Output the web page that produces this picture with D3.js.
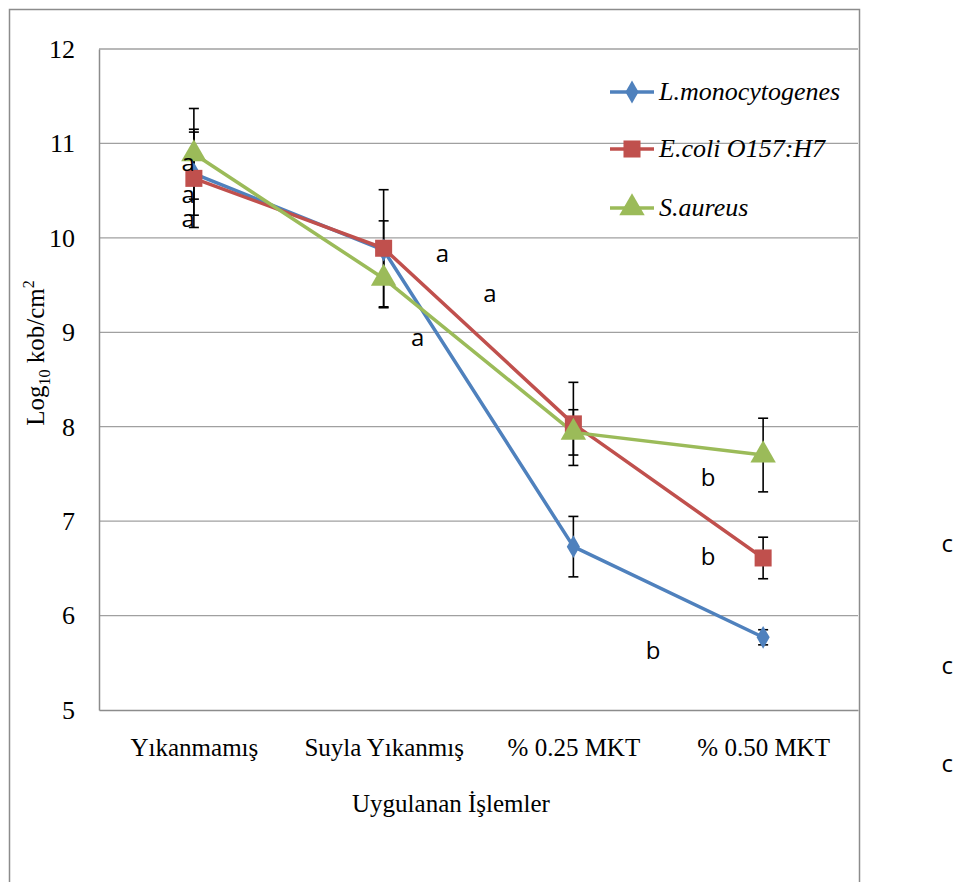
<!DOCTYPE html>
<html>
<head>
<meta charset="utf-8">
<script src="https://cdn.jsdelivr.net/npm/d3@7"></script>
<style>
body { margin:0; background:#fff; }
svg { display:block; }
</style>
</head>
<body>
<div id="chart"></div>
<script>
// data
var categories = ["Yıkanmamış", "Suyla Yıkanmış", "% 0.25 MKT", "% 0.50 MKT"];
var seriesNames = ["L.monocytogenes", "E.coli O157:H7", "S.aureus"];
var lmono = [10.68, 9.87, 6.73, 5.77];
var lmonoErr = [0.44, 0.31, 0.32, 0.08];
var ecoli = [10.63, 9.89, 8.03, 6.61];
var ecoliErr = [0.52, 0.62, 0.44, 0.22];
var saureus = [10.89, 9.57, 7.94, 7.70];
var saureusErr = [0.48, 0.31, 0.24, 0.39];
var yTicks = [5, 6, 7, 8, 9, 10, 11, 12];

// significance letters: position as category index + value
var letterText = ["a", "a", "a", "a", "a", "a", "b", "b", "b", "c", "c", "c"];
var letterPos = [-0.03, -0.03, -0.03, 1.31, 1.56, 1.18, 2.71, 2.71, 2.42, 3.97, 3.97, 3.97];
var letterVal = [10.79, 10.45, 10.20, 9.83, 9.41, 8.94, 7.46, 6.62, 5.62, 6.76, 5.47, 4.43];

var ch = {
	padding: {l:99, t:49, r:96, b:172},
	w: 954,
	h: 882,
	svg: null
}

var serif = 'Liberation Serif, Times New Roman, serif';
var colors = ["#4F81BD", "#C0504D", "#9BBB59"];
var symbols = [d3.symbolDiamond, d3.symbolSquare, d3.symbolTriangle];
var symSize = [150, 290, 280];

function drawChart() {
	ch.svg = d3.select('#chart').append('svg')
				.attr('width', ch.w)
				.attr('height', ch.h);
	var svg = ch.svg;

	var x = d3.scalePoint()
				.domain(categories)
				.range([ch.padding.l, ch.w - ch.padding.r])
				.padding(0.5);
	var xi = d3.scaleLinear()
				.domain([0, categories.length - 1])
				.range([x(categories[0]), x(categories[categories.length - 1])]);
	var y = d3.scaleLinear()
				.domain([5, 12])
				.range([ch.h - ch.padding.b, ch.padding.t]);

	// outer chart border
	svg.append('rect')
		.attr('x', 9.5).attr('y', 9.5)
		.attr('width', 850).attr('height', 920)
		.attr('fill', 'none')
		.attr('stroke', '#8c8c8c')
		.attr('stroke-width', 1.5);

	// gridlines
	svg.append('g')
		.selectAll('line')
		.data(yTicks.slice(1))
		.enter()
		.append('line')
			.attr('x1', ch.padding.l).attr('x2', ch.w - ch.padding.r)
			.attr('y1', d => y(d)).attr('y2', d => y(d))
			.attr('stroke', '#a0a0a0')
			.attr('stroke-width', 1.3);

	// axes
	var y_axis = d3.axisLeft(y).tickValues(yTicks).tickFormat(d3.format('d')).tickSize(0).tickPadding(24);
	svg.append('g')
			.attr('transform', 'translate(' + ch.padding.l + ',0)')
			.attr('font-family', serif)
			.attr('font-size', 26)
		.call(y_axis)
		.call(g => g.select('.domain').attr('stroke', '#8c8c8c').attr('stroke-width', 1.5))
		.call(g => g.selectAll('text')
			.attr('font-family', serif)
			.attr('font-size', 26)
			.attr('fill', '#000'));

	var x_axis = d3.axisBottom(x).tickSize(0).tickPadding(28);
	svg.append('g')
			.attr('transform', 'translate(0,' + (ch.h - ch.padding.b) + ')')
			.attr('font-family', serif)
			.attr('font-size', 25)
		.call(x_axis)
		.call(g => g.select('.domain').attr('stroke', '#8c8c8c').attr('stroke-width', 1.5))
		.call(g => g.selectAll('text')
			.attr('font-family', serif)
			.attr('font-size', 25)
			.attr('fill', '#000'));

	// axis titles
	svg.append('text')
		.attr('x', 451).attr('y', 812)
		.attr('text-anchor', 'middle')
		.attr('font-family', serif)
		.attr('font-size', 25)
		.text('Uygulanan İşlemler');

	var yt = svg.append('text')
		.attr('transform', 'translate(44,353) rotate(-90)')
		.attr('text-anchor', 'middle')
		.attr('font-family', serif)
		.attr('font-size', 25);
	yt.append('tspan').text('Log');
	yt.append('tspan').attr('font-size', 16).attr('dy', 6).text('10');
	yt.append('tspan').attr('dy', -6).text(' kob/cm');
	yt.append('tspan').attr('font-size', 16).attr('dy', -10).text('2');

	var series = [
		{name: seriesNames[0], vals: lmono, err: lmonoErr},
		{name: seriesNames[1], vals: ecoli, err: ecoliErr},
		{name: seriesNames[2], vals: saureus, err: saureusErr}
	];

	var line = d3.line()
				.x((d, i) => x(categories[i]))
				.y(d => y(d));

	// lines
	svg.append('g')
		.selectAll('path')
		.data(series)
		.enter()
		.append('path')
			.attr('d', d => line(d.vals))
			.attr('fill', 'none')
			.attr('stroke', (d, i) => colors[i])
			.attr('stroke-width', 3.5)
			.attr('stroke-linejoin', 'round');

	// error bars
	series.forEach(function(s) {
		var g = svg.append('g').attr('stroke', '#000').attr('stroke-width', 1.6);
		s.vals.forEach(function(v, i) {
			var cx = x(categories[i]);
			var y0 = y(v - s.err[i]), y1 = y(v + s.err[i]);
			g.append('line').attr('x1', cx).attr('x2', cx).attr('y1', y0).attr('y2', y1);
			g.append('line').attr('x1', cx - 5).attr('x2', cx + 5).attr('y1', y0).attr('y2', y0);
			g.append('line').attr('x1', cx - 5).attr('x2', cx + 5).attr('y1', y1).attr('y2', y1);
		});
	});

	// markers
	series.forEach(function(s, k) {
		svg.append('g')
			.selectAll('path')
			.data(s.vals)
			.enter()
			.append('path')
				.attr('d', d3.symbol().type(symbols[k]).size(symSize[k]))
				.attr('transform', (d, i) => 'translate(' + x(categories[i]) + ',' + y(d) + ')')
				.attr('fill', colors[k]);
	});

	// legend
	var leg = svg.append('g').attr('transform', 'translate(610,0)');
	var legY = [92, 149, 208];
	series.forEach(function(s, k) {
		leg.append('line')
			.attr('x1', 0).attr('x2', 44)
			.attr('y1', legY[k]).attr('y2', legY[k])
			.attr('stroke', colors[k]).attr('stroke-width', 3.5);
		leg.append('path')
			.attr('d', d3.symbol().type(symbols[k]).size(symSize[k]))
			.attr('transform', 'translate(22,' + legY[k] + ')')
			.attr('fill', colors[k]);
		leg.append('text')
			.attr('x', 49).attr('y', legY[k] + 8)
			.attr('font-family', serif)
			.attr('font-style', 'italic')
			.attr('font-size', 26)
			.text(s.name);
	});

	// letters
	svg.append('g')
		.selectAll('text')
		.data(letterText)
		.enter()
		.append('text')
			.attr('x', (d, i) => xi(letterPos[i]))
			.attr('y', (d, i) => y(letterVal[i]) + 8)
			.attr('text-anchor', 'middle')
			.attr('font-family', 'Open Sans, Liberation Sans, sans-serif')
			.attr('font-size', 24)
			.attr('fill', '#000')
			.text(d => d);
}

drawChart();
</script>
</body>
</html>
